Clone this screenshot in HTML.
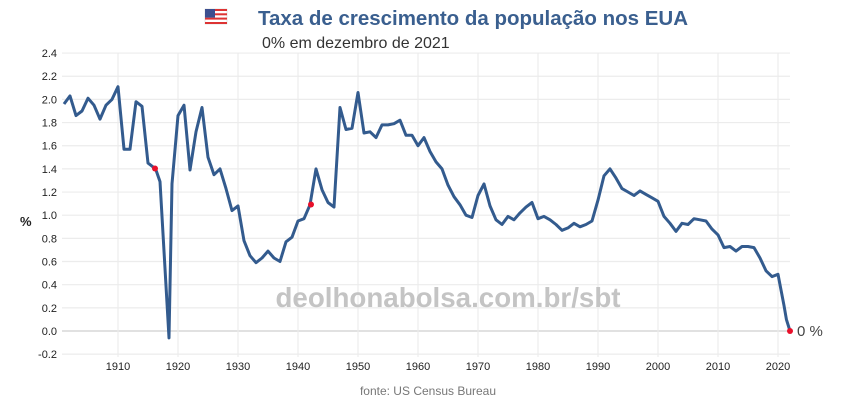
<!DOCTYPE html>
<html><head><meta charset="utf-8"><style>
body{margin:0;background:#fff;width:850px;height:400px;overflow:hidden}
</style></head><body>
<svg id="s" width="850" height="400" xmlns="http://www.w3.org/2000/svg" font-family="Liberation Sans, sans-serif">
<g id="grid"></g>
<g transform="translate(205,9)">
<rect width="22" height="15" fill="#fff" stroke="#ccc" stroke-width="0.5"/>
<rect y="0" width="22" height="2" fill="#d33"/><rect y="4.3" width="22" height="2" fill="#d33"/><rect y="8.6" width="22" height="2" fill="#d33"/><rect y="13" width="22" height="2" fill="#d33"/>
<rect width="10" height="8.6" fill="#3c4f8f"/>
</g>
<text x="258" y="25" font-size="20" font-weight="bold" fill="#3a5f8f" textLength="430" lengthAdjust="spacingAndGlyphs">Taxa de crescimento da população nos EUA</text>
<text x="262" y="48" font-size="16" fill="#333">0% em dezembro de 2021</text>
<text x="20" y="226" font-size="13" font-weight="bold" fill="#222">%</text>
<text x="448" y="307" text-anchor="middle" font-size="28" font-weight="bold" fill="#c4c4c4" textLength="345" lengthAdjust="spacingAndGlyphs">deolhonabolsa.com.br/sbt</text>
<g id="lab" font-size="11" fill="#222"></g>
<path id="line" fill="none" stroke="#335b8e" stroke-width="3" stroke-linejoin="round"/>
<circle cx="155" cy="168.5" r="3" fill="#e8102a"/>
<circle cx="311" cy="204.5" r="3" fill="#e8102a"/>
<circle cx="790" cy="331" r="3" fill="#e8102a"/>
<text x="797" y="336" font-size="15" fill="#444">0 %</text>
<text x="428" y="395" text-anchor="middle" font-size="12" fill="#777">fonte: US Census Bureau</text>
</svg>
<script>
var d=[1.96,2.03,1.86,1.90,2.01,1.95,1.83,1.95,2.00,2.11,1.57,1.57,1.98,1.94,1.45,1.41,1.29,-0.06,1.27,1.86,1.95,1.39,1.72,1.93,1.50,1.35,1.40,1.23,1.04,1.08,0.78,0.65,0.59,0.63,0.69,0.63,0.60,0.77,0.81,0.95,0.97,1.09,1.40,1.22,1.11,1.07,1.93,1.74,1.75,2.06,1.71,1.72,1.67,1.78,1.78,1.79,1.82,1.69,1.69,1.60,1.67,1.55,1.46,1.40,1.26,1.16,1.09,1.00,0.98,1.17,1.27,1.08,0.96,0.92,0.99,0.96,1.02,1.07,1.11,0.97,0.99,0.96,0.92,0.87,0.89,0.93,0.90,0.92,0.95,1.13,1.34,1.40,1.32,1.23,1.20,1.17,1.21,1.18,1.15,1.12,0.99,0.93,0.86,0.93,0.92,0.97,0.96,0.95,0.88,0.83,0.72,0.73,0.69,0.73,0.73,0.72,0.63,0.52,0.47,0.49,0.22];
function X(y){return 118+(y-1910)*6}function Y(v){return 331-v*115.8}
var p="";d.forEach(function(v,i){var yr=1901+i;if(yr==1917)p+="L"+X(1916.2)+" "+Y(1.41);if(yr==1918)yr=1918.5;p+=(i?"L":"M")+X(yr).toFixed(1)+" "+Y(v).toFixed(1)});
p+="L"+X(2021.4)+" "+Y(0.1)+"L790 331";
document.getElementById("line").setAttribute("d",p);
var g="",l="";
for(var k=-1;k<=12;k++){var v=k*0.2,y=Y(v);g+='<line x1="62" x2="790" y1="'+y+'" y2="'+y+'" stroke="'+(k==0?"#cfcfcf":"#ececec")+'" stroke-width="1.2"/>';l+='<text x="57" y="'+(y+4)+'" text-anchor="end">'+v.toFixed(1)+'</text>';}
for(var yr=1910;yr<=2020;yr+=10){var x=X(yr);g+='<line x1="'+x+'" x2="'+x+'" y1="53" y2="357" stroke="#ececec" stroke-width="1.2"/>';l+='<text x="'+x+'" y="370" text-anchor="middle">'+yr+'</text>';}
document.getElementById("grid").innerHTML=g;document.getElementById("lab").innerHTML=l;
</script>
</body></html>
